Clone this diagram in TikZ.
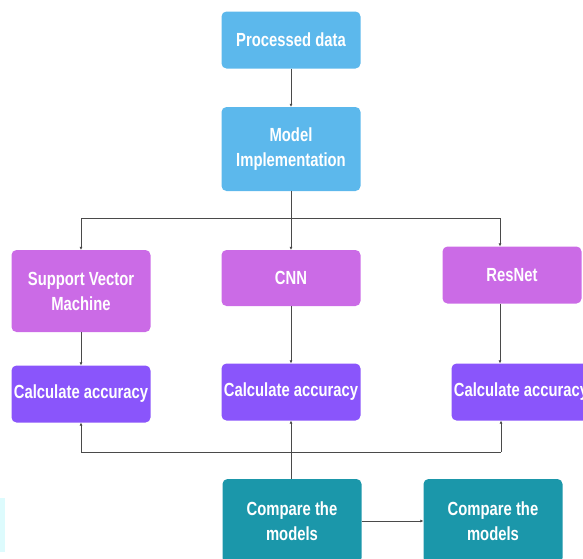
\documentclass[tikz,border=0pt]{standalone}
\usepackage{fontspec}
\setmainfont[FakeStretch=0.78]{Liberation Sans}
\usetikzlibrary{arrows.meta}
\definecolor{procblue}{HTML}{5CB8EC}
\definecolor{modpink}{HTML}{CB6BE6}
\definecolor{calcviolet}{HTML}{8A55FB}
\definecolor{cmpteal}{HTML}{1B97AA}
\definecolor{stripcyan}{HTML}{DDFBFD}
\definecolor{wire}{HTML}{4A4A4A}

\begin{document}
\begin{tikzpicture}[inner sep =0mm,>={Latex[length=3pt,width=3pt]},x=1pt,y=-1pt,
  box/.style={rectangle,rounded corners=5pt,minimum width=139,text=white,align=center,
    font=\bfseries\fontsize{19}{25}\selectfont},
  wire/.style={draw=wire,line width=0.8pt}]
  \useasboundingbox (0,0) rectangle (583,558);
  \clip (0,0) rectangle (583,558);
  \begin{scope}
    \xdef\topy{218}
    \xdef\boty{452}

    \fill[stripcyan] (0,498) rectangle (5,552);

    \node[box,fill=procblue,minimum height=57] (pd) at (291,40) {Processed data};
    \node[box,fill=procblue,minimum height=84] (mi) at (291,149) {Model\\Implementation};

    \foreach \i/\xx/\yy/\hh/\name in {1/81/291/82/{Support Vector\\Machine},2/291/278/56/CNN,3/512/275/57/ResNet} {
      \node[box,fill=modpink,minimum height=\hh] (m_\i) at (\xx,\yy) {\name};
    }
    \foreach \i/\xx/\yy in {1/81/394,2/291/392,3/521/392} {
      \node[box,fill=calcviolet,minimum height=57] (c_\i) at (\xx,\yy) {Calculate accuracy};
    }
    \foreach \i/\xx in {1/292,2/493} {
      \node[box,fill=cmpteal,minimum height=84] (cmp_\i) at (\xx,521) {Compare the\\models};
    }

    \coordinate (t_1) at (81,\topy);
    \coordinate (t_2) at (291,\topy);
    \coordinate (t_3) at (500,\topy);
    \coordinate (b_1) at (81,\boty);
    \coordinate (b_2) at (291,\boty);
    \coordinate (b_3) at (501,\boty);

    \draw[wire,->] (pd) -- (mi);
    \draw[wire] (mi) -- (t_2);
    \draw[wire] (t_1) -- (t_3);
    \draw[wire] (b_1) -- (b_3);
    \foreach \i in {1,2,3} {
      \draw[wire,->] (t_\i) -- (m_\i.north -| t_\i);
      \draw[wire,->] (m_\i.south -| t_\i) -- (c_\i.north -| t_\i);
      \draw[wire,->] (b_\i) -- (c_\i.south -| b_\i);
    }
    \draw[wire] (cmp_1.north -| b_2) -- (b_2);
    \draw[wire,->] (cmp_1) -- (cmp_2);
  \end{scope}

\end{tikzpicture}
\end{document}
